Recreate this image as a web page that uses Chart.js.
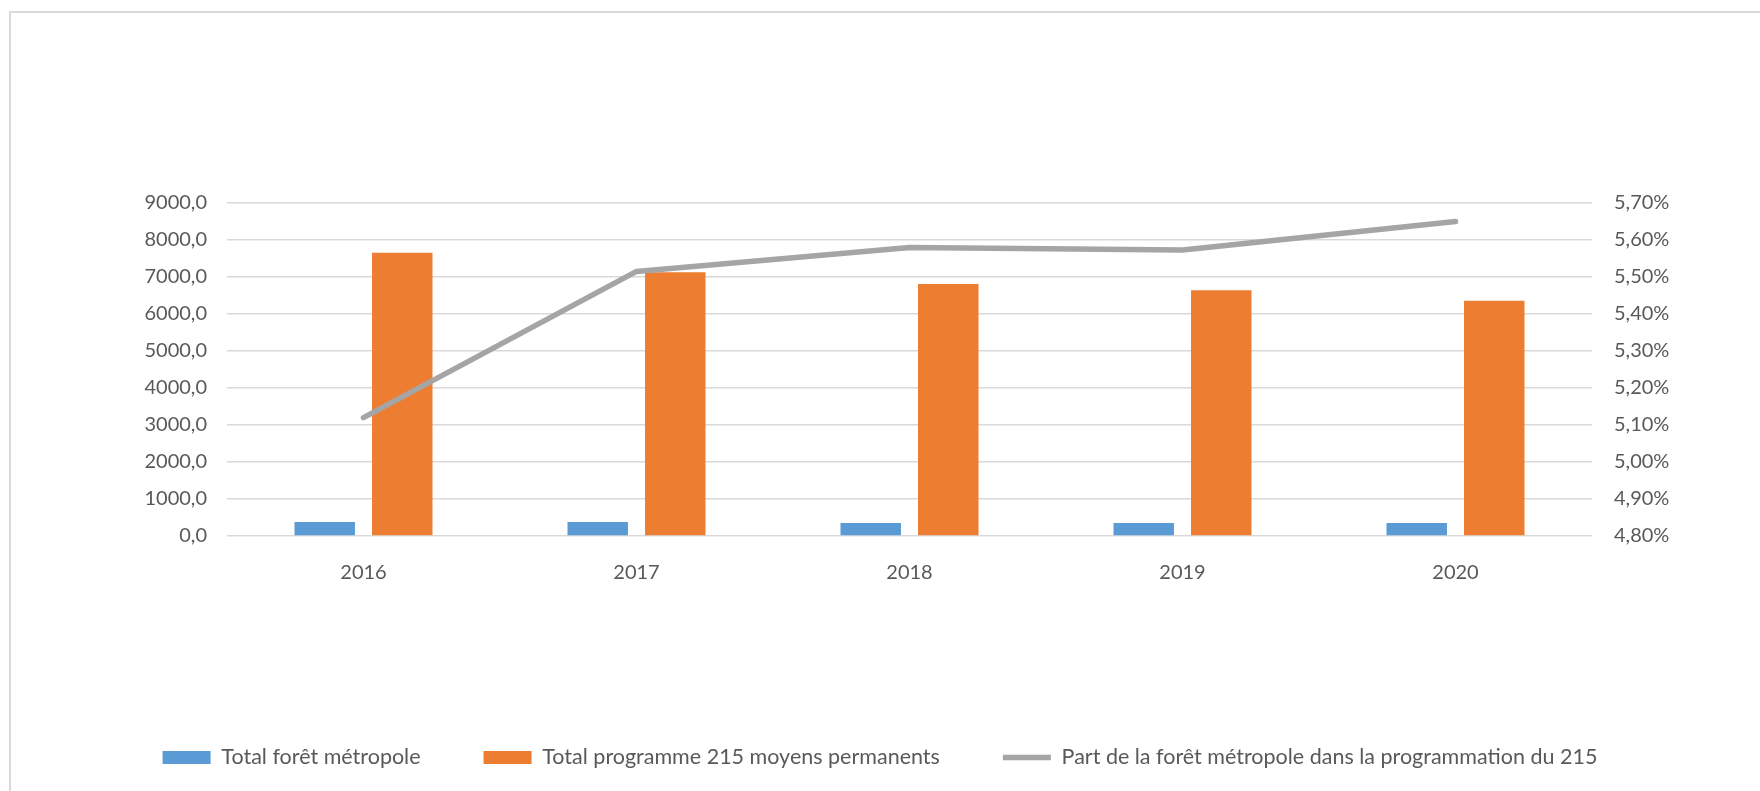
<!DOCTYPE html>
<html>
<head>
<meta charset="utf-8">
<script src="https://cdn.jsdelivr.net/npm/chart.js@4/dist/chart.umd.min.js"></script>
<style>
  body { margin: 0; background: #fff; overflow: hidden; }
  #cadre { position: absolute; left: 9px; top: 11px; width: 1800px; height: 820px;
           border-left: 2px solid #d9d9d9; border-top: 2px solid #d9d9d9; }
  #chart { position: absolute; left: 0; top: 0; }
</style>
</head>
<body>
<div id="cadre"></div>
<canvas id="chart" width="1760" height="791"></canvas>
<script>
// données
var annees = ["2016", "2017", "2018", "2019", "2020"];
var totalForet = [378, 378, 352, 352, 352];
var totalProgramme = [7658, 7126, 6811, 6640, 6360];
var partForet = [5.12, 5.515, 5.58, 5.573, 5.65];

var nomsSeries = [
    "Total forêt métropole",
    "Total programme 215 moyens permanents",
    "Part de la forêt métropole dans la programmation du 215"
];

var police = "Lato, 'Liberation Sans', sans-serif";
var gris = "#595959";

var ctx = document.getElementById("chart");
var chart = new Chart(ctx, {
    data: {
        labels: annees,
        datasets: [{
            type: "bar",
            label: nomsSeries[0],
            data: totalForet,
            backgroundColor: "#5b9bd5",
            yAxisID: "y",
            order: 1,
            pointStyle: "rect",
            categoryPercentage: 0.568,
            barPercentage: 0.78
        }, {
            type: "bar",
            label: nomsSeries[1],
            data: totalProgramme,
            backgroundColor: "#ed7d31",
            yAxisID: "y",
            order: 2,
            pointStyle: "rect",
            categoryPercentage: 0.568,
            barPercentage: 0.78
        }, {
            type: "line",
            label: nomsSeries[2],
            data: partForet,
            borderColor: "#a5a5a5",
            backgroundColor: "#a5a5a5",
            borderWidth: 5.5,
            borderCapStyle: "round",
            borderJoinStyle: "round",
            pointRadius: 0,
            pointStyle: "line",
            tension: 0,
            yAxisID: "y1",
            order: 0
        }]
    },
    options: {
        responsive: false,
        animation: false,
        layout: {
            padding: { top: 203, bottom: 12.75, left: 0, right: 0 }
        },
        plugins: {
            tooltip: { enabled: false },
            legend: {
                position: "bottom",
                labels: {
                    usePointStyle: true,
                    pointStyleWidth: 48,
                    boxHeight: 13,
                    padding: 63,
                    color: gris,
                    font: { family: police, size: 21.5 },
                    sort: function(a, b) { return a.datasetIndex - b.datasetIndex; }
                }
            }
        },
        scales: {
            x: {
                grid: { display: false },
                border: { display: false },
                ticks: { color: gris, padding: 17, font: { family: police, size: 20 } },
                afterFit: function(scale) { scale.height = 147.75; }
            },
            y: {
                position: "left",
                min: 0,
                max: 9000,
                grid: { color: "#d9d9d9", lineWidth: 1.5, drawTicks: false },
                border: { display: false },
                ticks: {
                    stepSize: 1000,
                    padding: 20,
                    color: gris,
                    font: { family: police, size: 20 },
                    callback: function(v) { return v.toFixed(1).replace(".", ","); }
                },
                afterFit: function(scale) { scale.width = 227; }
            },
            y1: {
                position: "right",
                min: 4.8,
                max: 5.7,
                grid: { display: false, drawTicks: false },
                border: { display: false },
                ticks: {
                    stepSize: 0.1,
                    padding: 22,
                    color: gris,
                    font: { family: police, size: 20 },
                    callback: function(v) { return v.toFixed(2).replace(".", ",") + "%"; }
                },
                afterFit: function(scale) { scale.width = 168; }
            }
        }
    }
});
</script>
</body>
</html>
